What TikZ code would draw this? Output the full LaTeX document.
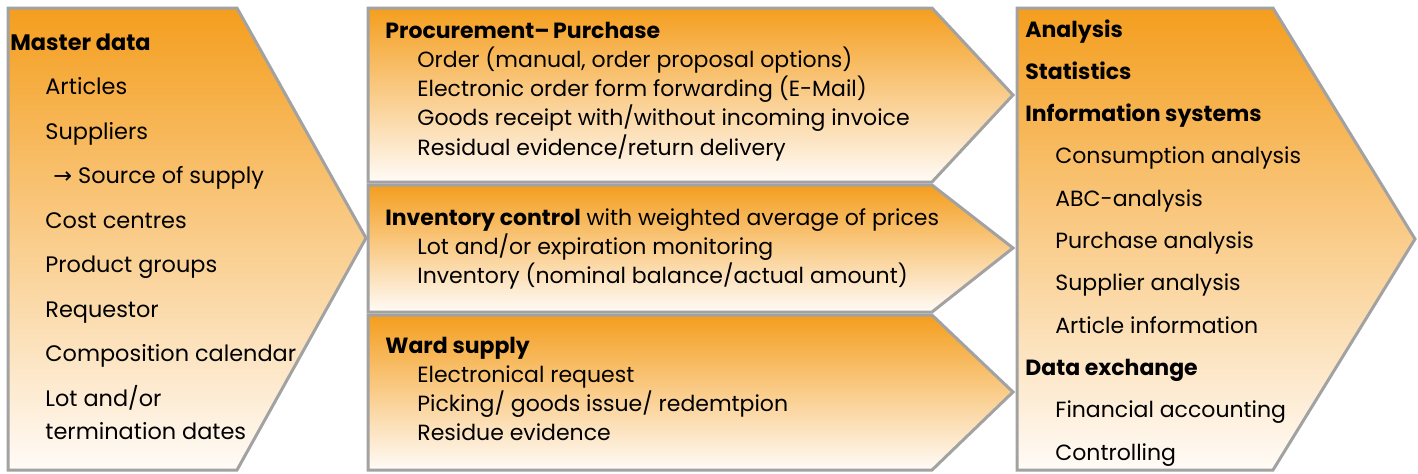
\documentclass[tikz,border=0pt]{standalone}
\usepackage{fontspec}
\setmainfont{Poppins}
\newfontfamily\arrowfont{DejaVu Sans}
\usepackage{tikz}
\usetikzlibrary{positioning}
\definecolor{panelorange}{RGB}{244,158,30}
\definecolor{panelwhite}{RGB}{255,251,247}
\definecolor{panelgrey}{RGB}{162,162,162}
\tikzset{
    %Define style for the chevrons
    chev/.style={
           draw=panelgrey,
           line width=1.5pt,
           line join=miter,
           top color=panelorange,
           bottom color=panelwhite},
    %Define style for text blocks
    blocktext/.style={
           anchor=base west,
           inner sep=0pt,
           text=black},
    sidetext/.style={
           blocktext,
           font=\fontsize{11.2}{22.25}\selectfont},
    midtext/.style={
           blocktext,
           font=\fontsize{11}{14.5}\selectfont},
    righttext/.style={
           blocktext,
           font=\fontsize{11}{21.15}\selectfont}
}
\newcommand{\ind}{\hspace*{17.5pt}}
\newcommand{\mind}{\hspace*{16pt}}
\newcommand{\rind}{\hspace*{15pt}}

\begin{document}
\begin{tikzpicture}[x=0.5pt,y=-0.5pt]
\useasboundingbox (0,0) rectangle (1418,473);

 %chevrons
\draw[chev] (8,8) -- (237,8) -- (366,238) -- (237,470) -- (8,470) -- cycle;
\draw[chev] (368,8) -- (932,8) -- (1013,95) -- (932,182) -- (368,182) -- cycle;
\draw[chev] (368,185) -- (932,185) -- (1013,248) -- (932,312) -- (368,312) -- cycle;
\draw[chev] (368,315) -- (932,315) -- (1013,392) -- (932,470) -- (368,470) -- cycle;
\draw[chev] (1017,8) -- (1273,8) -- (1415,239) -- (1273,470) -- (1017,470) -- cycle;

 %texts
\node[sidetext] (md) at (10,50) {\begin{tabular}[t]{@{}l@{}}
  \textbf{Master data}\\
  \ind Articles\\
  \ind Suppliers\\
  \ind\hspace*{4pt}{\arrowfont →} Source of supply\\
  \ind Cost centres\\
  \ind Product groups\\
  \ind Requestor\\
  \ind Composition calendar\\
  \ind Lot and/or\\[-5.75pt]
  \ind termination dates
  \end{tabular}};

\node[midtext] (pp) at (385,38) {\begin{tabular}[t]{@{}l@{}}
  \textbf{Procurement--\,Purchase}\\
  \mind Order (manual, order proposal options)\\
  \mind Electronic order form forwarding (E-Mail)\\
  \mind Goods receipt with/without incoming invoice\\
  \mind Residual evidence/return delivery
  \end{tabular}};

\node[midtext] (ic) at (385,225) {\begin{tabular}[t]{@{}l@{}}
  \textbf{Inventory control} with weighted average of prices\\
  \mind Lot and/or expiration monitoring\\
  \mind Inventory (nominal balance/actual amount)
  \end{tabular}};

\node[midtext] (ws) at (385,353) {\begin{tabular}[t]{@{}l@{}}
  \textbf{Ward supply}\\
  \mind Electronical request\\
  \mind Picking/ goods issue/ redemtpion\\
  \mind Residue evidence
  \end{tabular}};

\node[righttext] (an) at (1025,37) {\begin{tabular}[t]{@{}l@{}}
  \textbf{Analysis}\\
  \textbf{Statistics}\\
  \textbf{Information systems}\\
  \rind Consumption analysis\\
  \rind ABC-analysis\\
  \rind Purchase analysis\\
  \rind Supplier analysis\\
  \rind Article information\\
  \textbf{Data exchange}\\
  \rind Financial accounting\\
  \rind Controlling
  \end{tabular}};

\end{tikzpicture}
\end{document}
